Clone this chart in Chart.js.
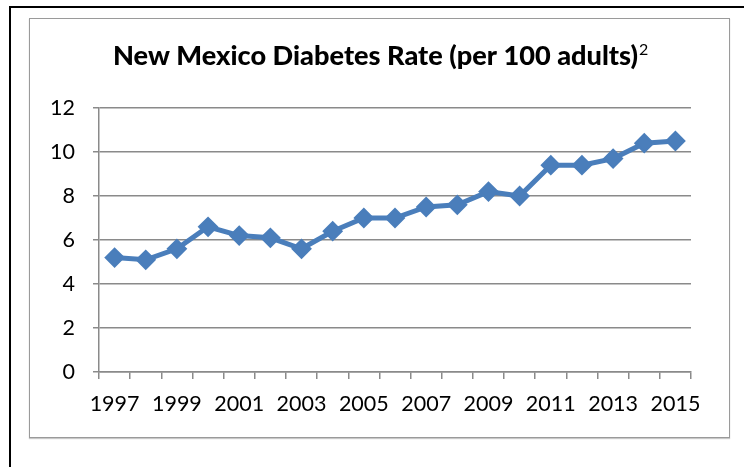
<!DOCTYPE html>
<html><head><meta charset="utf-8">
<script src="https://cdn.jsdelivr.net/npm/chart.js@4"></script>
<style>
html,body{margin:0;padding:0;background:#fff;}
body{width:744px;height:467px;position:relative;overflow:hidden;}
#outer{position:absolute;left:9px;top:6px;width:740px;height:470px;border-left:2px solid #000;border-top:2px solid #000;}
#box{position:absolute;left:29px;top:18px;width:699px;height:418px;border:1.5px solid #9a9a9a;box-shadow:0 1px 1px #c8c8c8;}
#wrap{position:absolute;left:0;top:0;width:744px;height:467px;}
</style></head>
<body>
<div id="outer"></div><div id="box"></div>
<div id="wrap"><canvas id="c"></canvas></div>
<script>
const categories = ['1997','1998','1999','2000','2001','2002','2003','2004','2005','2006','2007','2008','2009','2010','2011','2012','2013','2014','2015'];
const rates = [5.2,5.1,5.6,6.6,6.2,6.1,5.6,6.4,7.0,7.0,7.5,7.6,8.2,8.0,9.4,9.4,9.7,10.4,10.5];
const yMin = 0, yMax = 12, yStep = 2;
const titleText = 'New Mexico Diabetes Rate (per 100 adults)';
const titleSup = '2';

const titlePlugin = {
  id: 'titleSup',
  afterDraw(chart) {
    const ctx = chart.ctx;
    ctx.save();
    ctx.fillStyle = '#000';
    ctx.textBaseline = 'alphabetic';
    ctx.textAlign = 'left';
    ctx.font = '900 26px Lato';
    const w = ctx.measureText(titleText).width;
    const sx = 525 / w;
    ctx.save();
    ctx.translate(113, 65);
    ctx.scale(sx, 1);
    ctx.fillText(titleText, 0, 0);
    ctx.restore();
    ctx.font = '16px Lato';
    ctx.fillText(titleSup, 113 + w * sx + 1, 55);
    ctx.restore();
  }
};

const gridCol = '#8a8a8a';
const tickFont = { family: 'Lato', size: 21.5 };

new Chart(document.getElementById('c'), {
  type: 'line',
  data: {
    labels: categories,
    datasets: [{
      data: rates,
      borderColor: '#4a7ebb',
      backgroundColor: '#4a7ebb',
      borderWidth: 5,
      pointStyle: 'rectRot',
      pointRadius: 9,
      pointBorderWidth: 2,
      pointBackgroundColor: '#4a7ebb',
      pointBorderColor: '#4a7ebb',
      tension: 0,
      fill: false
    }]
  },
  options: {
    responsive: true,
    maintainAspectRatio: false,
    animation: false,
    layout: { padding: { top: 108, right: 53, left: 0, bottom: 0 } },
    plugins: { legend: { display: false }, tooltip: { enabled: false }, title: { display: false } },
    scales: {
      x: {
        type: 'category',
        offset: true,
        afterFit(s) { s.height = 95; },
        grid: { offset: true, drawOnChartArea: false, drawTicks: true, tickLength: 7, color: gridCol, lineWidth: 1.5 },
        border: { color: gridCol, width: 1.5 },
        ticks: {
          autoSkip: false, maxRotation: 0, minRotation: 0,
          color: '#000', font: tickFont, padding: 12,
          callback: (v, i) => (i % 2 === 0 ? categories[i] : '')
        }
      },
      y: {
        min: yMin, max: yMax,
        afterFit(s) { s.width = 99; },
        grid: { color: gridCol, lineWidth: 1.5, tickLength: 6, drawTicks: true },
        border: { color: gridCol, width: 1.5 },
        ticks: { stepSize: yStep, color: '#000', font: tickFont, padding: 18 }
      }
    }
  },
  plugins: [titlePlugin]
});
</script>
</body></html>
